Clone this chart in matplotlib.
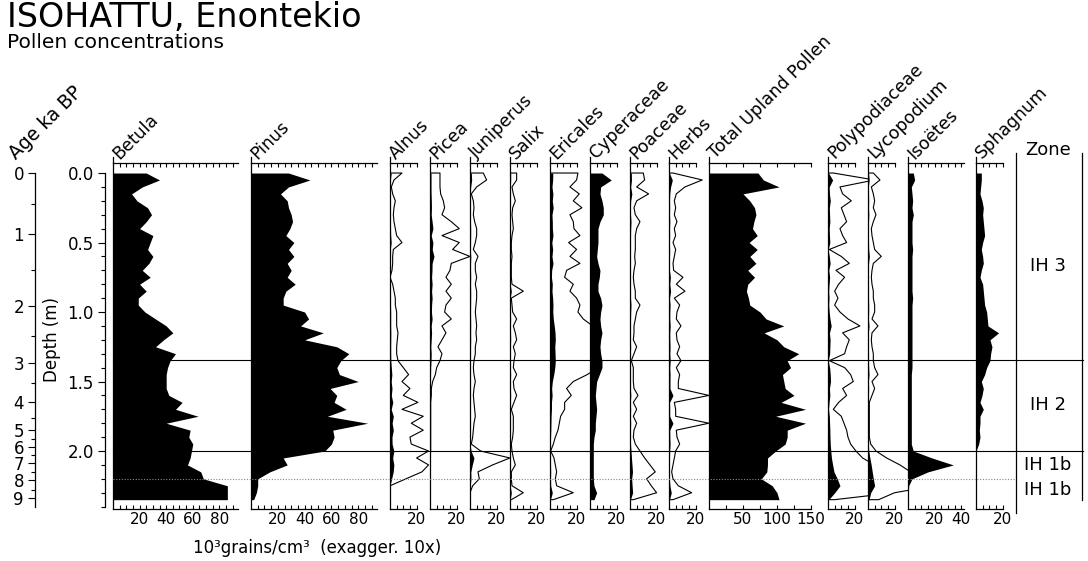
import matplotlib
matplotlib.use("Agg")
import matplotlib.pyplot as plt
from matplotlib.lines import Line2D
from matplotlib.patches import Rectangle
import matplotlib.transforms as mtrans

# ---------------- data ----------------
depth = [0.00, 0.05, 0.10, 0.15, 0.20, 0.25, 0.30, 0.35, 0.40, 0.45,
         0.50, 0.55, 0.60, 0.65, 0.70, 0.75, 0.80, 0.85, 0.90, 0.95,
         1.00, 1.05, 1.10, 1.15, 1.20, 1.25, 1.30, 1.35, 1.40, 1.45,
         1.50, 1.55, 1.60, 1.65, 1.70, 1.75, 1.80, 1.85, 1.90, 1.95,
         2.00, 2.05, 2.10, 2.15, 2.20, 2.25, 2.30, 2.35]

betula = [25, 35, 22, 14, 18, 26, 29, 25, 20, 30,
          28, 26, 30, 27, 22, 28, 20, 25, 19, 19,
          24, 32, 40, 45, 38, 32, 47, 43, 41, 40,
          40, 40, 42, 52, 47, 64, 40, 58, 57, 60,
          59, 58, 56, 66, 68, 86, 86, 86]
pinus = [28, 44, 28, 22, 27, 28, 30, 31, 29, 26,
         32, 28, 32, 27, 30, 27, 33, 26, 24, 24,
         40, 43, 37, 54, 40, 64, 73, 67, 64, 66,
         80, 59, 64, 62, 71, 57, 87, 61, 62, 60,
         55, 24, 27, 14, 5, 5, 4, 2]
alnus = [0.9, 0.3, 0.1, 0.2, 0.4, 0.3, 0.25, 0.3, 0.4, 0.5,
         0.9, 0.25, 0.2, 0.2, 0.15, 0.0, 0.2, 0.3, 0.4, 0.4,
         0.5, 0.5, 0.5, 0.6, 0.55, 0.5, 0.5, 0.6, 1.0, 1.4,
         0.9, 1.5, 1.0, 2.1, 0.9, 2.5, 1.6, 2.5, 1.5, 1.6,
         2.9, 2.0, 2.9, 2.4, 1.2, 0.0, 0.0, 0.0]
picea = [0.75, 0.75, 0.75, 0.8, 1.0, 1.1, 0.9, 1.6, 2.2, 0.9,
         2.2, 1.7, 3.0, 1.6, 1.5, 1.2, 1.6, 1.2, 1.6, 1.2,
         1.1, 1.6, 0.9, 1.2, 0.9, 0.6, 0.9, 0.75, 0.5, 0.4,
         0.2, 0.1, 0.1, 0.05, 0.05, 0.05, 0.05, 0.05, 0.05, 0.05,
         0.05, 0.0, 0.0, 0.0, 0.0, 0.0, 0.0, 0.0]
juniperus = [1.0, 1.25, 0.5, 0.1, 0.25, 0.3, 0.25, 0.35, 0.5, 0.5,
             0.4, 0.25, 0.6, 0.4, 0.4, 0.5, 0.4, 0.5, 0.5, 0.45,
             0.4, 0.45, 0.5, 0.45, 0.5, 0.4, 0.4, 0.3, 0.25, 0.3,
             0.4, 0.3, 0.25, 0.3, 0.35, 0.4, 0.3, 0.25, 0.2, 0.1,
             0.8, 3.0, 1.7, 0.6, 0.7, 0.2, 0.0, 0.0]
salix = [0.5, 0.5, 0.15, 0.25, 0.4, 0.2, 0.15, 0.2, 0.25, 0.15,
         0.1, 0.1, 0.15, 0.1, 0.1, 0.1, 0.15, 1.0, 0.1, 0.15,
         0.2, 0.5, 0.25, 0.4, 0.5, 0.25, 0.4, 0.3, 0.25, 0.5,
         0.25, 0.3, 0.5, 0.3, 0.1, 0.25, 0.25, 0.25, 0.2, 0.1,
         0.15, 0.25, 0.4, 0.1, 0.1, 0.15, 1.0, 0.1]
ericales = [2.1, 2.0, 1.5, 2.2, 1.75, 2.4, 1.5, 1.75, 1.8, 2.25,
            1.4, 2.0, 1.5, 2.25, 1.25, 1.1, 1.75, 1.5, 2.0, 2.25,
            2.1, 2.5, 3.2, 3.8, 4.0, 3.6, 3.8, 4.0, 3.6, 2.8,
            1.75, 1.25, 1.6, 1.1, 1.1, 0.8, 0.7, 0.6, 0.4, 0.25,
            0.05, 0.3, 0.4, 0.5, 0.4, 0.5, 1.75, 0.25]
cyperaceae = [9, 16, 8, 7.5, 9, 10, 10, 7.5, 6, 6,
              6, 5.5, 5, 6, 7.5, 7, 6, 6, 8, 9,
              8, 7.5, 8, 9, 8, 7.5, 8, 9, 9, 7,
              5, 4.5, 4, 4.5, 5, 4.5, 4, 4, 3, 2.5,
              2.5, 2.5, 2.5, 2.5, 2.5, 3, 5, 3]
poaceae = [1.0, 1.1, 0.5, 1.4, 0.5, 0.3, 0.4, 0.75, 0.5, 0.4,
           0.4, 0.4, 0.35, 0.4, 0.3, 0.25, 0.3, 0.4, 0.4, 0.75,
           0.5, 0.4, 0.3, 0.3, 0.25, 0.5, 0.3, 0.1, 0.25, 0.25,
           0.25, 0.3, 0.6, 0.25, 0.5, 0.25, 0.5, 0.3, 0.25, 0.4,
           0.75, 1.1, 1.5, 1.9, 1.25, 1.6, 2.0, 0.25]
herbs = [0.3, 2.5, 1.2, 0.55, 0.4, 0.5, 0.4, 0.6, 0.4, 0.5,
         0.3, 0.5, 0.4, 0.3, 0.35, 1.05, 0.55, 1.2, 0.4, 0.8,
         0.6, 0.55, 0.9, 0.55, 0.6, 0.8, 0.6, 0.9, 0.55, 0.8,
         0.7, 0.7, 3.0, 0.4, 0.5, 0.5, 3.0, 0.55, 0.6, 0.8,
         0.5, 0.4, 0.3, 0.2, 0.3, 0.7, 1.7, 0.3]
total_upland = [72, 80, 103, 50, 60, 67, 69, 66, 64, 71,
                59, 71, 60, 69, 57, 67, 57, 55, 58, 60,
                75, 84, 110, 81, 100, 110, 132, 115, 120, 108,
                110, 112, 125, 106, 142, 98, 142, 115, 115, 112,
                98, 86, 86, 85, 77, 93, 100, 103]
polypodiaceae = [0.4, 3.5, 0.9, 1.1, 1.75, 1.0, 1.2, 1.4, 0.9, 1.1,
                 1.4, 0.1, 1.0, 1.6, 0.6, 1.25, 0.8, 0.5, 0.75, 0.5,
                 0.9, 1.5, 2.4, 1.1, 1.6, 1.4, 1.25, 0.1, 1.25, 1.7,
                 1.9, 1.1, 1.4, 0.8, 0.4, 1.0, 1.2, 1.4, 1.5, 1.7,
                 2.1, 2.6, 3.5, 4.5, 7.0, 9.0, 5.0, 0.5]
lycopodium = [0.4, 0.9, 0.25, 0.4, 0.5, 0.4, 0.6, 0.4, 0.25, 0.3,
              0.4, 0.5, 1.0, 0.4, 0.3, 0.25, 0.3, 0.4, 0.4, 0.5,
              0.5, 0.3, 0.75, 0.3, 0.25, 0.3, 0.4, 0.4, 0.5, 0.75,
              0.3, 0.5, 0.3, 0.1, 0.1, 0.1, 0.1, 0.1, 0.1, 0.2,
              0.6, 1.4, 2.4, 3.2, 4.0, 5.0, 2.0, 0.8]
isoetes = [4, 5, 2.5, 3, 3.5, 3, 4, 3, 3, 3,
           3, 3.5, 3, 3, 3, 3, 3, 3, 3.5, 3,
           3, 3, 3, 3, 3, 3, 3, 3, 3, 2.5,
           2.5, 2.5, 2.5, 2.5, 2.5, 2.5, 2.5, 2.5, 2.5, 2.5,
           4, 18, 34, 15, 3, 0.5, 0.3, 0.3]
sphagnum = [4, 4, 3.5, 3, 4.5, 5.5, 5, 5.5, 6, 6.5,
            5, 4, 5, 5.5, 4, 3, 5, 5.5, 6, 6.5,
            8, 8.5, 9, 17, 10.5, 12, 11, 10.5, 8, 6.5,
            4, 5.5, 4.5, 3, 5.5, 3, 3, 2.5, 3, 2,
            0, 0, 0, 0, 0, 0, 0, 0]

taxa_names = ["Betula", "Pinus", "Alnus", "Picea", "Juniperus", "Salix",
              "Ericales", "Cyperaceae", "Poaceae", "Herbs",
              "Total Upland Pollen", "Polypodiaceae", "Lycopodium",
              "Isoëtes", "Sphagnum"]

depth_ticks = [0.0, 0.5, 1.0, 1.5, 2.0]
depth_tick_labels = ["0.0", "0.5", "1.0", "1.5", "2.0"]
depth_minor = [0.1, 0.2, 0.3, 0.4, 0.6, 0.7, 0.8, 0.9, 1.1, 1.2, 1.3, 1.4,
               1.6, 1.7, 1.8, 1.9, 2.1, 2.2, 2.3, 2.4]
ages = ["0", "1", "2", "3", "4", "5", "6", "7", "8", "9"]
age_depths = [0.0, 0.44, 0.957, 1.367, 1.65, 1.85, 1.97, 2.086, 2.21, 2.34]
half_age_depths = [0.22, 0.70, 1.17, 1.51, 1.76, 1.91, 2.03, 2.15, 2.28]

zone_bounds = [1.345, 2.0]
subzone_bound = 2.2
zone_names = ["IH 3", "IH 2", "IH 1b", "IH 1b"]
zone_mids = [0.67, 1.67, 2.10, 2.28]

# ---------------- layout ----------------
W, H = 1088, 561
plt.rcParams['font.family'] = ['DejaVu Sans', 'Noto Sans']
fig = plt.figure(figsize=(W / 100, H / 100), dpi=100)

Y_TOP, Y_BOT = -0.075, 2.42
PX_TOP, PX_BOT = 162.6, 509.4


def rect(x0, x1):
    return [x0 / W, 1 - PX_BOT / H, (x1 - x0) / W, (PX_BOT - PX_TOP) / H]


def fx(px):
    return px / W


def fy(py):
    return 1 - py / H


narrow_ticks = [5, 10, 15, 20]
big_ticks = list(range(5, 95, 5))

# (values, left px, right px, xmax, ticks, labelled ticks, exaggerated)
panels = [
    (betula, 113, 238, 94, big_ticks, [20, 40, 60, 80], False),
    (pinus, 251, 377, 94, big_ticks, [20, 40, 60, 80], False),
    (alnus, 390, 417, 20.3, narrow_ticks, [20], True),
    (picea, 430, 457, 20.3, narrow_ticks, [20], True),
    (juniperus, 470, 497, 20.3, narrow_ticks, [20], True),
    (salix, 510, 537, 20.3, narrow_ticks, [20], True),
    (ericales, 550, 577, 20.3, narrow_ticks, [20], True),
    (cyperaceae, 590, 617, 20.3, narrow_ticks, [20], False),
    (poaceae, 630, 657, 20.3, narrow_ticks, [20], True),
    (herbs, 669, 696, 20.3, narrow_ticks, [20], True),
    (total_upland, 709, 811, 150, [25, 50, 75, 100, 125, 150], [50, 100, 150], False),
    (polypodiaceae, 828, 855, 20.3, narrow_ticks, [20], True),
    (lycopodium, 868, 895, 20.3, narrow_ticks, [20], True),
    (isoetes, 908, 964, 42, [5, 10, 15, 20, 25, 30, 35, 40], [20, 40], False),
    (sphagnum, 976, 1003, 20.3, narrow_ticks, [20], False),
]

axes = []
for name, (vals, x0, x1, xmax, ticks, labelled, exag) in zip(taxa_names, panels):
    ax = fig.add_axes(rect(x0, x1))
    ax.set_xlim(0, xmax)
    ax.set_ylim(Y_BOT, Y_TOP)
    ax.patch.set_alpha(0)
    ax.spines['right'].set_visible(False)
    for s in ['left', 'top', 'bottom']:
        ax.spines[s].set_linewidth(0.9)
    ax.fill_betweenx(depth, 0, vals, color='black', lw=0)
    if exag:
        ex = [10 * v for v in vals]
        ln, = ax.plot([0] + ex + [0], [depth[0]] + depth + [depth[-1]],
                      color='black', lw=0.8)
        px_per_unit = (x1 - x0) / xmax
        clip = Rectangle((0, Y_TOP), 40 / px_per_unit, Y_BOT - Y_TOP,
                         transform=ax.transData)
        ln.set_clip_path(clip)
    ax.set_xticks(ticks)
    ax.set_xticklabels([str(t) if t in labelled else '' for t in ticks])
    ax.tick_params(axis='x', which='both', direction='in', top=True, bottom=True,
                   length=3, width=0.8, labelsize=11, pad=2)
    ax.set_yticks([])
    # small extension of the left spine above the top axis
    fig.add_artist(Line2D([fx(x0), fx(x0)], [fy(PX_TOP), fy(PX_TOP - 6)],
                          color='black', lw=0.9))
    fig.text(fx(x0 + 6), fy(PX_TOP - 3), name, rotation=45, rotation_mode='anchor',
             ha='left', va='baseline', fontsize=12.5)
    axes.append(ax)

ref = axes[0]
trans = mtrans.blended_transform_factory(fig.transFigure, ref.transData)

# zone boundaries
for zb in zone_bounds:
    fig.add_artist(Line2D([fx(113), fx(1083)], [zb, zb], transform=trans,
                          color='black', lw=0.8, zorder=0.5))
fig.add_artist(Line2D([fx(113), fx(1016)], [subzone_bound, subzone_bound],
                      transform=trans, color='#888888', lw=0.8, ls=(0, (1, 1.5)),
                      zorder=0.5))

# zone column
fig.add_artist(Line2D([fx(1016), fx(1016)], [-0.145, 2.445], transform=trans,
                      color='black', lw=0.9))
fig.add_artist(Line2D([fx(1082), fx(1082)], [-0.145, 2.35], transform=trans,
                      color='black', lw=0.9))
fig.text(fx(1048), 1 - (173 - 139 * 0.165) / H, "Zone", ha='center', va='center',
         fontsize=13)
for zn, zm in zip(zone_names, zone_mids):
    fig.text(fx(1048), 1 - (173 + 139 * zm) / H, zn, ha='center', va='center',
             fontsize=13)

# depth axis
axd = fig.add_axes(rect(105, 106))
axd.set_ylim(Y_BOT, Y_TOP)
axd.patch.set_alpha(0)
for s in ['right', 'top', 'bottom']:
    axd.spines[s].set_visible(False)
axd.spines['left'].set_bounds(0, 2.4)
axd.spines['left'].set_linewidth(0.9)
axd.set_xticks([])
axd.set_yticks(depth_ticks)
axd.set_yticklabels(depth_tick_labels)
axd.set_yticks(depth_minor, minor=True)
axd.tick_params(axis='y', which='major', direction='out', length=5, width=0.8,
                labelsize=12, pad=3)
axd.tick_params(axis='y', which='minor', direction='out', length=3, width=0.8)
fig.text(fx(52), fy(340), "Depth (m)", rotation=90, ha='center', va='center',
         fontsize=12)

# age axis
axa = fig.add_axes(rect(35, 36))
axa.set_ylim(Y_BOT, Y_TOP)
axa.patch.set_alpha(0)
for s in ['right', 'top', 'bottom']:
    axa.spines[s].set_visible(False)
axa.spines['left'].set_bounds(0, 2.4)
axa.spines['left'].set_linewidth(0.9)
axa.set_xticks([])
axa.set_yticks(age_depths)
axa.set_yticklabels(ages)
axa.set_yticks(half_age_depths, minor=True)
axa.tick_params(axis='y', which='major', direction='out', length=5, width=0.8,
                labelsize=12, pad=3)
axa.tick_params(axis='y', which='minor', direction='out', length=3, width=0.8)
fig.text(fx(16), fy(160), "Age ka BP", rotation=45, rotation_mode='anchor',
         ha='left', va='baseline', fontsize=13.5)

# titles
fig.text(fx(7), fy(27), "ISOHATTU, Enontekio", fontsize=24, va='baseline',
         ha='left')
fig.text(fx(7), fy(48), "Pollen concentrations", fontsize=14.5, va='baseline',
         ha='left')
fig.text(fx(193), fy(553), "10³grains/cm³  (exagger. 10x)", fontsize=12,
         va='baseline', ha='left')

fig.savefig("out.png", dpi=100)
